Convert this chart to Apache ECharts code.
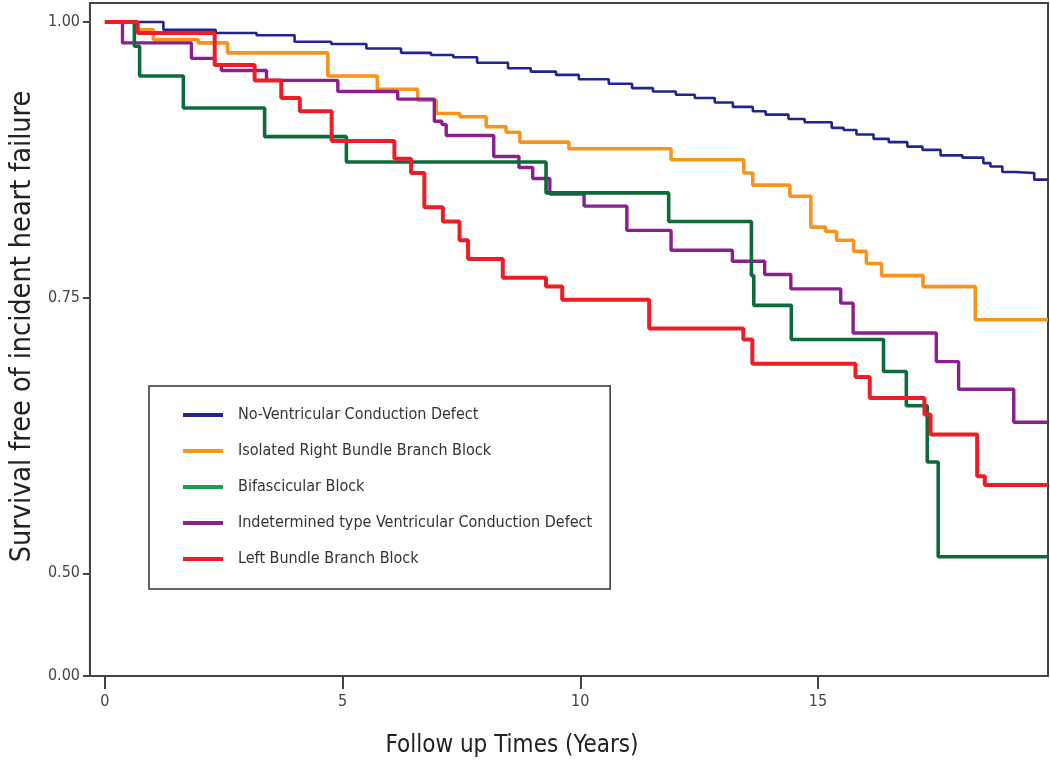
<!DOCTYPE html>
<html><head><meta charset="utf-8">
<script src="https://cdn.jsdelivr.net/npm/echarts@6/dist/echarts.min.js"></script>
<style>html,body{margin:0;padding:0;background:#fff}#c{width:1050px;height:765px}</style>
</head><body><div id="c"></div>
<script>
// ---- data ----
var seriesNames = [
  'No-Ventricular Conduction Defect',
  'Isolated Right Bundle Branch Block',
  'Bifascicular Block',
  'Indetermined type Ventricular Conduction Defect',
  'Left Bundle Branch Block'
];
var endTime = 19.84;

var noVcdTimes = [0, 1.23, 2.33, 3.19, 3.99, 4.76, 5.50, 6.23, 6.86, 7.33, 7.83, 8.48, 8.96, 9.49, 9.97, 10.60, 11.09, 11.53, 12.01, 12.41, 12.83, 13.21, 13.63, 13.90, 14.38, 14.72, 15.29, 15.54, 15.81, 16.17, 16.49, 16.88, 17.20, 17.58, 18.04, 18.48, 18.63, 18.88, 19.15, 19.55];
var noVcdSurv  = [1.0, 0.993, 0.990, 0.988, 0.982, 0.980, 0.976, 0.972, 0.970, 0.968, 0.963, 0.958, 0.955, 0.952, 0.948, 0.944, 0.940, 0.937, 0.934, 0.931, 0.927, 0.923, 0.919, 0.916, 0.912, 0.909, 0.904, 0.902, 0.898, 0.894, 0.891, 0.887, 0.884, 0.879, 0.877, 0.872, 0.869, 0.864, 0.863, 0.857];

var rbbbTimes = [0, 0.67, 1.02, 1.96, 2.58, 4.69, 5.73, 6.58, 6.97, 7.47, 8.02, 8.44, 8.73, 9.76, 11.91, 13.44, 13.63, 14.41, 14.85, 15.16, 15.39, 15.75, 16.02, 16.34, 17.21, 18.31];
var rbbbSurv  = [1.0, 0.993, 0.984, 0.981, 0.972, 0.951, 0.939, 0.929, 0.917, 0.914, 0.905, 0.900, 0.891, 0.885, 0.875, 0.863, 0.852, 0.842, 0.814, 0.810, 0.802, 0.792, 0.781, 0.770, 0.760, 0.730];

var bifTimes = [0, 0.62, 0.73, 1.65, 3.36, 5.08, 9.28, 11.86, 13.60, 13.65, 14.44, 16.38, 16.86, 17.30, 17.53];
var bifSurv  = [1.0, 0.978, 0.951, 0.922, 0.896, 0.873, 0.845, 0.819, 0.770, 0.743, 0.712, 0.683, 0.652, 0.601, 0.515];

var indetTimes = [0, 0.37, 1.82, 2.31, 2.45, 3.40, 4.90, 6.16, 6.93, 7.09, 7.18, 8.18, 8.71, 9.00, 9.36, 10.08, 10.98, 11.91, 13.20, 13.88, 14.43, 15.48, 15.74, 17.49, 17.96, 19.12];
var indetSurv  = [1.0, 0.981, 0.967, 0.961, 0.956, 0.947, 0.937, 0.930, 0.910, 0.907, 0.897, 0.878, 0.868, 0.858, 0.844, 0.833, 0.811, 0.793, 0.783, 0.771, 0.758, 0.745, 0.718, 0.692, 0.667, 0.637];

var lbbbTimes = [0, 0.69, 2.31, 3.15, 3.71, 4.10, 4.77, 6.09, 6.44, 6.72, 7.11, 7.46, 7.64, 8.37, 9.28, 9.62, 11.45, 13.43, 13.62, 15.79, 16.09, 17.24, 17.37, 18.35, 18.51];
var lbbbSurv  = [1.0, 0.990, 0.961, 0.947, 0.931, 0.919, 0.892, 0.876, 0.863, 0.832, 0.819, 0.802, 0.785, 0.768, 0.760, 0.748, 0.722, 0.712, 0.690, 0.678, 0.659, 0.644, 0.626, 0.588, 0.580];

var xTickValues = [0, 5, 10, 15];
// broken y axis: the "0.00" tick sits just below 0.50
var yTickValues = [0.4069, 0.5, 0.75, 1.0];
var yTickLabels = ['0.00', '0.50', '0.75', '1.00'];

// ---- build ----
function km(times, surv) {
  var d = [];
  for (var i = 0; i < times.length; i++) d.push([times[i], surv[i]]);
  d.push([endTime, surv[surv.length - 1]]);
  return d;
}
var colors = ['#22238c', '#f7941d', '#0c6b3a', '#8a1f8e', '#ee1d25'];
var legendColors = ['#22238c', '#f7941d', '#1aa04b', '#8a1f8e', '#ee1d25'];
var widths = [2.6, 3.6, 3.6, 3.4, 4];
var dataSets = [km(noVcdTimes, noVcdSurv), km(rbbbTimes, rbbbSurv), km(bifTimes, bifSurv), km(indetTimes, indetSurv), km(lbbbTimes, lbbbSurv)];
var drawOrder = [0, 1, 3, 2, 4];

var FONT = "'Liberation Sans Narrow', 'DejaVu Sans Condensed', 'Liberation Sans', sans-serif";

var series = drawOrder.map(function (i, k) {
  return {
    name: seriesNames[i], type: 'line', step: 'end', data: dataSets[i],
    showSymbol: false, symbol: 'none', z: 2 + k,
    lineStyle: { color: colors[i], width: widths[i] },
    itemStyle: { color: colors[i] }
  };
});

var chart = echarts.init(document.getElementById('c'), null, { renderer: 'canvas' });
chart.setOption({
  animation: false,
  backgroundColor: '#fff',
  grid: { left: 88, top: 3, right: 2, bottom: 89, show: true, borderColor: '#444', borderWidth: 2, backgroundColor: 'transparent' },
  legend: {
    orient: 'vertical', left: 149, top: 386,
    data: seriesNames.map(function (n, i) { return { name: n, icon: 'rect', itemStyle: { color: legendColors[i] } }; }),
    itemWidth: 40, itemHeight: 4, itemGap: 20,
    padding: [21, 18, 22, 34],
    borderColor: '#333', borderWidth: 1.5,
    selectedMode: false,
    textStyle: { fontFamily: FONT, fontSize: 16, color: '#333', padding: [0, 0, 0, 10] }
  },
  xAxis: {
    type: 'value', min: -0.315, max: endTime,
    name: 'Follow up Times (Years)', nameLocation: 'middle', nameGap: 58,
    nameTextStyle: { fontFamily: FONT, fontSize: 24, color: '#222', padding: [0, 114, 0, 0] },
    axisLine: { show: true, onZero: false, lineStyle: { color: '#444', width: 2 } },
    axisTick: { show: true, customValues: xTickValues, length: 13, lineStyle: { color: '#444', width: 2 } },
    axisLabel: { customValues: xTickValues, fontFamily: FONT, fontSize: 16, color: '#444', margin: 18 },
    splitLine: { show: false }
  },
  yAxis: {
    type: 'value', min: 0.4069, max: 1.0172,
    name: 'Survival free of incident heart failure', nameLocation: 'middle', nameGap: 50,
    nameTextStyle: { fontFamily: FONT, fontSize: 28.5, color: '#222', padding: [0, 0, 0, 26] },
    axisLine: { show: true, onZero: false, lineStyle: { color: '#444', width: 2 } },
    axisTick: { show: true, customValues: yTickValues, length: 7, lineStyle: { color: '#444', width: 2 } },
    axisLabel: {
      customValues: yTickValues, fontFamily: FONT, fontSize: 16, color: '#444', margin: 10,
      formatter: function (v) {
        for (var i = 0; i < yTickValues.length; i++) if (Math.abs(yTickValues[i] - v) < 1e-6) return yTickLabels[i];
        return '';
      }
    },
    splitLine: { show: false }
  },
  series: series
});
</script></body></html>
